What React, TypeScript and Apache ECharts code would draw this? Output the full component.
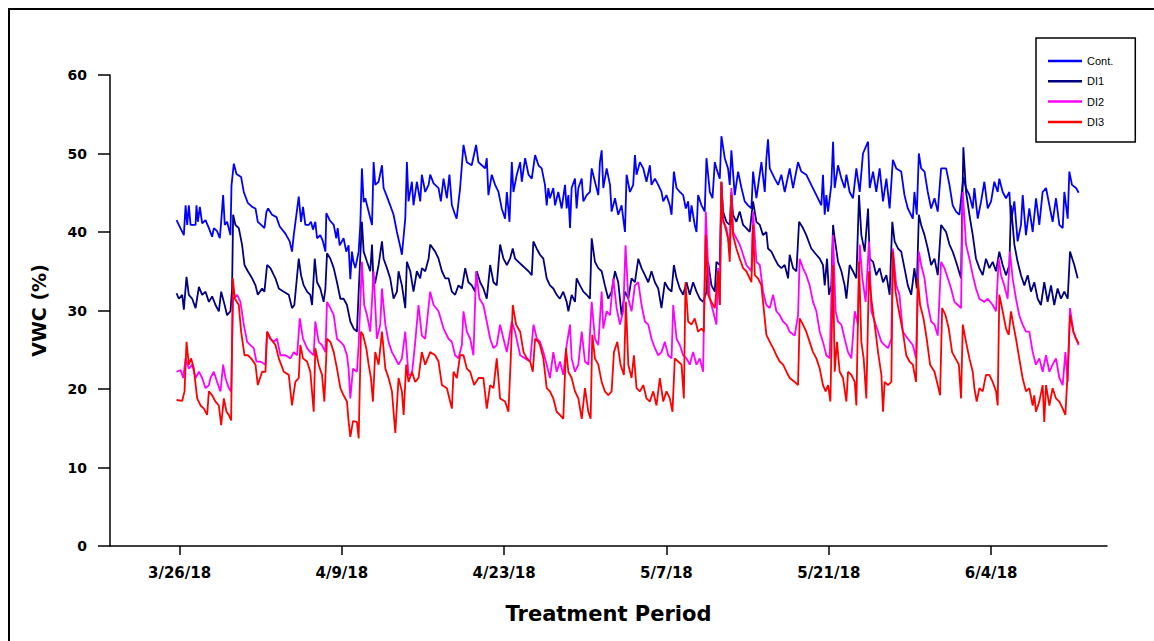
import React, { useEffect, useRef } from "react";
import * as echarts from "echarts";

const tickDays = [0, 14, 28, 42, 56, 70];
const tickLabels = ["3/26/18", "4/9/18", "4/23/18", "5/7/18", "5/21/18", "6/4/18"];
const yTicks = [0, 10, 20, 30, 40, 50, 60];
const seriesNames = ["Cont.", "DI1", "DI2", "DI3"];
const seriesColors = ["#0000FF", "#000080", "#FF00FF", "#FF0000"];

// [days since 3/26/18, VWC %]
const contData: [number, number][] = [
  [-0.26,41.5],[-0.06,40.9],[0.37,39.6],[0.52,43.4],[0.66,40.9],[0.8,43.4],[0.95,40.9],[1.38,40.9],[1.46,43.4],[1.58,41.3],[1.75,43.2],[1.95,41.1],[2.24,41.5],[2.53,40.5],[2.81,39.4],[2.96,40.5],[3.24,40.1],[3.47,39.2],[3.59,41.3],[3.76,44.7],[3.9,40.9],[4.1,41.3],[4.39,39.6],[4.48,45.9],[4.68,48.7],[4.91,47.4],[5.31,47.0],[5.54,45.1],[5.89,43.7],[6.26,43.2],[6.55,43.0],[6.75,41.3],[7.04,40.9],[7.32,40.5],[7.5,42.6],[7.64,43.0],[7.98,42.2],[8.36,41.9],[8.64,40.7],[9.13,39.8],[9.5,38.8],[9.7,37.5],[9.85,39.6],[10.28,44.5],[10.48,41.3],[10.65,43.2],[10.85,40.9],[11.14,40.9],[11.34,41.3],[11.51,40.3],[11.71,41.3],[11.86,39.2],[12.14,39.6],[12.37,38.8],[12.58,37.5],[12.66,42.4],[12.95,41.5],[13.3,40.9],[13.52,39.2],[13.64,40.5],[13.81,38.3],[14.15,39.2],[14.38,37.5],[14.58,38.3],[14.73,34.0],[14.87,37.5],[15.0,36.2],[15.16,35.4],[15.45,37.5],[15.59,40.9],[15.73,48.1],[15.88,43.8],[16.02,44.3],[16.31,42.6],[16.6,40.9],[16.74,48.9],[16.88,46.0],[17.17,46.4],[17.46,48.5],[17.6,45.6],[17.89,44.5],[18.17,43.4],[18.46,42.2],[18.75,40.0],[19.04,38.1],[19.18,37.1],[19.47,41.7],[19.61,48.9],[19.75,43.9],[20.04,46.4],[20.18,43.4],[20.47,46.4],[20.76,43.9],[20.9,47.3],[21.19,45.1],[21.48,46.0],[21.62,47.3],[21.91,46.2],[22.34,45.6],[22.54,43.9],[22.77,46.8],[23.06,44.3],[23.28,47.3],[23.49,43.4],[23.77,42.2],[23.9,41.7],[24.2,45.6],[24.49,51.1],[24.78,48.9],[25.2,48.5],[25.58,51.1],[25.78,48.9],[26.07,48.5],[26.36,48.1],[26.5,49.4],[26.64,44.7],[26.93,47.3],[27.22,46.0],[27.51,45.1],[27.79,43.0],[28.08,41.7],[28.23,45.1],[28.46,41.3],[28.66,48.9],[28.8,45.1],[29.09,47.3],[29.38,48.9],[29.52,46.4],[29.81,49.4],[30.1,47.3],[30.38,46.8],[30.67,49.8],[30.96,48.5],[31.24,48.1],[31.52,46.0],[31.67,43.4],[31.81,45.6],[31.95,44.3],[32.24,45.6],[32.39,43.4],[32.67,45.1],[32.96,43.0],[33.25,46.0],[33.39,43.0],[33.54,44.7],[33.68,40.5],[33.82,45.6],[34.11,46.8],[34.25,43.0],[34.4,45.6],[34.69,46.8],[34.83,43.9],[35.12,44.7],[35.4,45.1],[35.55,48.1],[35.83,46.4],[36.12,44.7],[36.26,48.9],[36.41,50.4],[36.55,45.6],[36.84,48.1],[37.13,46.0],[37.27,42.6],[37.56,44.3],[37.84,42.2],[38.13,43.4],[38.42,40.0],[38.56,47.3],[38.85,45.1],[39.13,46.0],[39.28,49.8],[39.42,47.3],[39.71,48.9],[40.0,48.1],[40.28,46.4],[40.57,48.5],[40.71,46.0],[41.0,46.8],[41.29,46.0],[41.57,45.1],[41.72,43.9],[42.0,44.7],[42.29,43.4],[42.44,42.2],[42.64,47.7],[42.87,45.6],[43.15,45.1],[43.44,44.7],[43.67,43.0],[43.87,43.9],[44.01,41.3],[44.16,43.4],[44.44,40.9],[44.59,40.0],[44.73,44.7],[45.02,43.4],[45.16,43.0],[45.3,42.6],[45.45,49.4],[45.74,45.1],[45.97,44.3],[46.17,48.9],[46.31,48.1],[46.6,46.8],[46.74,52.2],[47.03,49.4],[47.31,48.1],[47.46,46.0],[47.6,50.4],[47.89,44.7],[48.18,47.7],[48.47,45.6],[48.75,43.9],[49.04,43.4],[49.33,43.0],[49.47,47.7],[49.76,44.3],[50.19,48.9],[50.48,45.1],[50.62,49.4],[50.76,51.8],[50.91,48.1],[51.34,46.8],[51.63,46.0],[51.91,47.3],[52.2,45.1],[52.63,48.1],[52.92,45.6],[53.35,48.9],[53.63,47.7],[54.06,47.3],[54.49,46.0],[54.93,44.7],[55.36,43.4],[55.5,47.3],[55.65,42.2],[55.79,44.7],[55.94,42.6],[56.22,46.0],[56.37,51.5],[56.51,45.6],[56.8,48.5],[57.09,46.8],[57.37,45.6],[57.52,47.3],[57.8,45.1],[58.09,44.3],[58.38,48.1],[58.67,45.1],[58.95,50.0],[59.39,51.5],[59.53,45.6],[59.82,47.7],[60.1,45.1],[60.39,48.1],[60.68,43.9],[60.97,46.8],[61.25,43.0],[61.53,49.2],[61.82,48.1],[62.25,47.7],[62.53,44.7],[62.82,43.0],[63.25,41.7],[63.39,45.1],[63.59,42.2],[63.77,50.0],[63.97,48.1],[64.26,47.7],[64.54,45.1],[64.83,43.0],[65.12,44.3],[65.4,42.6],[65.69,48.1],[66.12,48.1],[66.41,46.0],[66.69,43.4],[66.98,42.6],[67.27,42.2],[67.61,47.0],[67.84,45.6],[68.13,44.7],[68.42,43.0],[68.56,45.6],[68.85,41.7],[69.14,43.9],[69.42,46.4],[69.71,43.0],[70.0,43.9],[70.28,46.4],[70.57,45.1],[70.71,46.8],[71.0,45.1],[71.29,44.3],[71.58,45.1],[71.72,41.3],[72.01,43.9],[72.29,38.8],[72.58,40.9],[72.73,44.7],[73.01,39.6],[73.3,43.0],[73.59,40.0],[73.88,44.3],[74.16,40.9],[74.45,45.1],[74.74,45.6],[75.03,43.4],[75.31,41.3],[75.6,44.3],[75.89,40.9],[76.18,40.5],[76.32,45.1],[76.61,41.7],[76.75,47.7],[76.98,46.0],[77.33,45.6],[77.56,45.0]
];

const di1Data: [number, number][] = [
  [-0.26,32.2],[-0.06,31.5],[0.23,32.0],[0.37,30.1],[0.6,34.3],[0.8,32.0],[1.09,31.5],[1.38,30.3],[1.67,33.0],[1.95,32.0],[2.24,32.4],[2.53,31.1],[2.81,31.8],[3.1,30.7],[3.39,29.9],[3.59,32.4],[3.82,31.1],[4.1,29.4],[4.39,29.9],[4.53,32.8],[4.62,42.2],[4.82,40.9],[5.11,40.5],[5.4,38.3],[5.6,35.8],[5.89,35.0],[6.26,34.1],[6.55,33.2],[6.75,32.0],[7.12,32.8],[7.32,32.4],[7.55,35.8],[7.84,35.4],[8.27,34.1],[8.56,32.8],[8.99,32.4],[9.42,32.0],[9.7,30.3],[9.9,30.7],[10.28,36.6],[10.48,34.5],[10.71,33.2],[11.0,32.4],[11.28,32.0],[11.43,30.7],[11.66,36.6],[11.86,33.6],[12.14,32.8],[12.43,31.1],[12.58,32.8],[12.72,37.3],[13.01,36.6],[13.3,35.4],[13.58,33.6],[13.87,31.5],[14.15,31.5],[14.44,30.7],[14.73,28.6],[15.02,27.7],[15.3,27.3],[15.45,32.4],[15.73,41.3],[15.88,37.5],[16.17,36.2],[16.45,35.0],[16.6,38.4],[16.74,33.2],[16.88,33.6],[17.17,35.8],[17.46,38.8],[17.6,36.6],[17.89,35.4],[18.17,34.1],[18.46,31.5],[18.75,32.4],[18.89,35.0],[19.18,33.2],[19.47,30.3],[19.61,36.2],[19.9,35.0],[20.18,32.4],[20.47,35.0],[20.76,34.1],[20.9,35.4],[21.19,35.0],[21.48,36.6],[21.62,38.4],[22.05,37.5],[22.34,36.6],[22.63,35.0],[22.92,34.1],[23.2,34.1],[23.49,32.4],[23.77,32.0],[24.06,33.2],[24.35,32.8],[24.64,35.4],[24.92,33.6],[25.21,33.2],[25.49,32.4],[25.64,35.0],[25.93,33.6],[26.21,32.8],[26.5,31.5],[26.79,35.8],[27.08,33.6],[27.36,33.2],[27.65,38.4],[27.94,36.6],[28.23,35.8],[28.51,36.6],[28.74,37.9],[28.94,36.6],[29.23,36.2],[29.52,35.8],[29.81,35.4],[30.1,35.0],[30.38,34.5],[30.52,38.8],[30.8,37.9],[31.09,37.1],[31.38,36.6],[31.67,34.1],[31.95,33.2],[32.24,32.8],[32.53,32.0],[32.81,31.5],[33.1,32.4],[33.39,31.1],[33.54,29.9],[33.82,32.0],[34.11,31.1],[34.25,34.1],[34.54,33.2],[34.83,32.4],[35.12,32.0],[35.4,31.5],[35.55,39.2],[35.83,36.2],[36.12,35.4],[36.41,35.0],[36.69,33.2],[36.98,31.5],[37.27,32.4],[37.56,35.0],[37.84,33.6],[38.13,29.4],[38.42,32.4],[38.71,31.5],[38.99,34.1],[39.28,33.6],[39.57,36.6],[39.85,35.4],[40.14,34.5],[40.43,33.6],[40.71,35.0],[41.0,33.6],[41.29,32.8],[41.57,30.3],[41.86,33.6],[42.15,32.8],[42.44,32.4],[42.64,35.8],[42.87,34.1],[43.15,32.8],[43.44,32.0],[43.73,33.6],[44.01,32.0],[44.3,33.6],[44.59,32.4],[44.87,31.5],[45.16,31.1],[45.45,32.4],[45.59,36.2],[45.88,33.2],[46.17,32.4],[46.31,36.2],[46.6,35.8],[46.74,46.4],[46.88,42.6],[47.17,41.3],[47.46,40.9],[47.6,45.1],[47.74,42.2],[48.03,41.3],[48.32,42.6],[48.61,40.9],[48.89,40.5],[49.18,40.0],[49.47,43.9],[49.76,41.3],[50.05,40.9],[50.33,39.6],[50.62,40.0],[50.76,37.9],[51.05,37.5],[51.34,36.6],[51.63,35.8],[51.91,35.4],[52.2,35.8],[52.49,34.1],[52.63,37.1],[52.92,35.4],[53.21,35.0],[53.44,41.3],[53.78,40.5],[54.06,39.6],[54.49,37.9],[54.93,37.1],[55.22,36.6],[55.5,35.8],[55.65,33.2],[55.85,36.6],[56.02,32.0],[56.22,33.2],[56.37,40.9],[56.51,39.2],[56.8,36.2],[57.09,35.0],[57.37,33.2],[57.52,31.5],[57.8,35.8],[58.09,35.0],[58.38,34.1],[58.61,44.7],[58.81,39.6],[59.1,37.5],[59.39,43.0],[59.53,36.6],[59.82,36.2],[60.1,34.5],[60.39,35.4],[60.68,33.6],[60.97,34.5],[61.25,32.0],[61.48,41.3],[61.68,38.8],[61.97,37.9],[62.25,37.5],[62.53,35.4],[62.82,33.2],[63.11,32.0],[63.39,35.4],[63.59,32.8],[63.77,42.2],[63.97,40.9],[64.26,39.6],[64.54,37.9],[64.83,35.8],[65.12,36.6],[65.4,34.5],[65.69,40.9],[66.12,40.0],[66.41,38.4],[66.69,37.5],[66.98,36.2],[67.41,34.1],[67.61,50.8],[67.84,45.1],[68.13,42.2],[68.42,39.6],[68.7,36.6],[68.99,35.4],[69.28,34.5],[69.56,36.6],[69.85,35.4],[70.14,36.2],[70.43,35.0],[70.71,37.5],[71.0,35.8],[71.29,34.5],[71.58,35.8],[71.72,43.4],[72.01,38.4],[72.29,36.2],[72.58,34.5],[72.87,33.2],[73.16,34.5],[73.44,32.4],[73.73,33.6],[74.02,31.5],[74.3,30.7],[74.59,33.6],[74.88,31.1],[75.17,33.2],[75.45,30.7],[75.74,32.8],[76.03,31.5],[76.32,32.4],[76.61,31.5],[76.81,37.5],[77.18,35.8],[77.47,34.1]
];

const di2Data: [number, number][] = [
  [-0.26,22.2],[0.09,22.4],[0.32,21.4],[0.52,23.9],[0.8,22.6],[1.09,23.1],[1.38,21.4],[1.67,22.2],[1.95,21.4],[2.24,20.1],[2.53,20.5],[2.67,21.4],[2.96,22.2],[3.24,20.9],[3.53,19.7],[3.76,23.1],[3.96,21.4],[4.25,20.1],[4.45,19.7],[4.62,31.5],[4.97,32.0],[5.25,31.1],[5.54,28.2],[5.83,26.0],[6.11,25.6],[6.4,25.2],[6.63,23.5],[6.98,23.5],[7.41,23.1],[7.55,27.3],[7.84,26.4],[8.13,26.0],[8.41,26.4],[8.7,24.3],[9.13,24.3],[9.56,23.9],[9.85,24.7],[10.14,24.3],[10.37,29.0],[10.65,26.4],[11.0,25.2],[11.28,24.7],[11.57,24.3],[11.71,28.6],[12.0,26.0],[12.29,25.6],[12.58,24.7],[12.72,31.1],[13.01,30.3],[13.3,29.4],[13.58,26.4],[13.87,26.0],[14.15,25.6],[14.44,24.3],[14.58,22.6],[14.73,18.8],[14.96,22.6],[15.3,22.2],[15.45,25.6],[15.73,36.2],[15.93,30.7],[16.17,29.4],[16.45,27.3],[16.74,35.0],[17.02,26.4],[17.31,28.2],[17.46,32.8],[17.75,28.2],[18.03,26.0],[18.32,24.7],[18.61,23.9],[18.89,23.1],[19.18,23.9],[19.47,27.3],[19.75,21.8],[20.04,21.8],[20.33,26.0],[20.61,30.7],[20.9,26.8],[21.19,26.4],[21.62,32.4],[21.91,30.7],[22.34,29.9],[22.77,27.7],[23.2,26.4],[23.49,26.0],[23.77,24.3],[24.06,23.9],[24.35,25.6],[24.49,29.9],[24.78,27.3],[25.07,26.4],[25.35,24.3],[25.58,35.0],[25.87,31.5],[26.21,30.7],[26.5,28.6],[26.79,26.4],[27.08,25.2],[27.36,25.6],[27.65,28.2],[27.94,26.4],[28.23,24.7],[28.66,28.6],[28.94,27.3],[29.38,24.3],[29.81,23.9],[30.24,23.5],[30.53,28.2],[30.82,26.4],[31.09,26.0],[31.38,24.7],[31.67,23.1],[31.95,21.4],[32.24,24.7],[32.53,22.2],[32.81,23.5],[33.1,21.8],[33.39,25.6],[33.68,28.2],[33.82,23.9],[34.11,22.2],[34.4,23.1],[34.69,27.3],[34.97,23.5],[35.26,23.1],[35.55,31.1],[35.83,26.4],[36.12,25.6],[36.41,32.4],[36.55,27.7],[36.84,29.9],[37.13,29.4],[37.41,34.1],[37.7,30.3],[37.99,28.2],[38.27,29.9],[38.47,38.3],[38.71,31.5],[38.99,29.9],[39.28,33.2],[39.57,33.6],[39.85,30.7],[40.14,28.6],[40.43,28.2],[40.71,26.4],[41.0,25.2],[41.29,24.3],[41.57,24.7],[41.86,26.0],[42.15,24.3],[42.44,23.9],[42.58,30.7],[42.87,26.4],[43.15,25.6],[43.44,24.3],[43.73,23.9],[44.01,23.1],[44.3,24.7],[44.59,23.1],[44.87,23.9],[45.16,22.2],[45.39,42.6],[45.59,35.8],[45.74,31.5],[46.02,29.9],[46.31,28.2],[46.45,35.4],[46.6,30.7],[46.74,46.0],[46.88,41.3],[47.17,40.5],[47.46,37.9],[47.6,45.6],[47.74,40.0],[48.03,39.2],[48.32,38.4],[48.61,37.1],[48.89,35.8],[49.33,35.0],[49.47,42.6],[49.76,36.2],[50.05,35.8],[50.33,32.4],[50.62,30.7],[50.91,30.3],[51.2,32.0],[51.48,29.9],[51.77,29.4],[52.06,28.6],[52.35,28.2],[52.63,27.3],[53.06,26.8],[53.35,29.4],[53.49,36.6],[53.78,35.4],[54.06,34.5],[54.35,33.2],[54.64,31.1],[54.93,29.9],[55.22,27.3],[55.5,26.0],[55.79,24.3],[56.08,23.9],[56.37,39.6],[56.59,29.9],[56.8,28.6],[57.09,28.2],[57.37,26.4],[57.66,24.7],[57.95,23.9],[58.24,29.9],[58.52,28.2],[58.67,38.4],[58.9,34.1],[59.18,31.1],[59.47,38.8],[59.67,29.9],[59.96,28.6],[60.25,27.3],[60.54,26.0],[60.82,25.6],[61.11,25.2],[61.4,26.4],[61.53,37.9],[61.82,33.2],[62.1,32.0],[62.39,27.3],[62.82,26.4],[63.25,25.6],[63.53,23.9],[63.77,37.5],[63.97,35.8],[64.26,34.1],[64.54,30.7],[64.83,28.6],[65.12,28.2],[65.4,26.8],[65.69,36.2],[65.98,35.4],[66.27,34.1],[66.55,32.8],[66.84,31.1],[67.13,30.7],[67.41,30.3],[67.56,45.1],[67.84,38.4],[68.13,36.6],[68.42,34.5],[68.7,32.8],[68.99,31.5],[69.42,31.1],[69.71,31.5],[70.14,30.7],[70.43,29.9],[70.66,36.6],[70.86,34.5],[71.14,33.2],[71.43,31.5],[71.63,37.5],[71.86,34.1],[72.15,31.5],[72.43,29.4],[72.72,28.2],[73.01,27.3],[73.3,27.3],[73.59,24.7],[73.87,23.1],[74.16,23.9],[74.45,22.2],[74.74,24.3],[75.03,22.2],[75.31,23.1],[75.6,23.9],[75.89,21.4],[76.18,20.5],[76.41,24.7],[76.61,20.9],[76.81,30.3],[77.1,27.3],[77.33,26.4],[77.56,25.6]
];

const di3Data: [number, number][] = [
  [-0.26,18.6],[0.23,18.5],[0.43,19.7],[0.6,26.0],[0.8,23.1],[1.0,23.9],[1.23,22.6],[1.52,18.8],[1.81,17.9],[2.1,17.5],[2.38,16.7],[2.53,19.7],[2.81,19.2],[3.1,18.4],[3.39,17.9],[3.59,15.4],[3.82,18.8],[4.05,17.1],[4.25,16.7],[4.45,16.0],[4.59,34.1],[4.77,31.5],[5.11,30.7],[5.31,27.3],[5.6,24.3],[5.89,24.3],[6.17,23.9],[6.55,23.1],[6.75,20.5],[7.12,22.2],[7.41,22.2],[7.55,27.3],[7.84,26.4],[8.27,25.6],[8.56,23.9],[8.99,22.2],[9.42,21.8],[9.7,17.9],[9.99,20.9],[10.28,21.4],[10.42,25.6],[10.65,23.9],[11.0,23.5],[11.28,22.2],[11.57,17.1],[11.71,25.2],[12.0,23.1],[12.29,21.8],[12.49,18.4],[12.72,26.4],[13.01,26.0],[13.3,24.7],[13.58,22.6],[13.87,20.1],[14.15,19.2],[14.44,18.4],[14.58,15.9],[14.73,13.9],[14.96,15.9],[15.3,15.8],[15.45,13.7],[15.65,27.3],[15.82,26.9],[16.11,25.2],[16.31,23.1],[16.51,21.4],[16.68,18.4],[16.88,24.7],[17.17,23.1],[17.46,27.3],[17.75,22.6],[18.03,21.4],[18.32,19.7],[18.61,14.4],[18.89,21.4],[19.18,19.7],[19.33,16.7],[19.55,23.1],[19.75,20.9],[20.04,22.2],[20.33,20.9],[20.61,21.4],[20.9,24.7],[21.19,23.1],[21.62,24.7],[22.05,24.3],[22.34,23.5],[22.63,20.5],[23.06,20.1],[23.49,17.5],[23.63,22.2],[23.92,21.4],[24.2,24.3],[24.49,24.3],[24.78,22.6],[25.07,22.2],[25.41,20.5],[25.79,21.4],[26.21,21.4],[26.5,17.5],[26.79,20.5],[27.08,20.1],[27.36,23.9],[27.65,18.8],[28.08,18.4],[28.37,17.1],[28.57,23.9],[28.74,30.7],[29.03,28.2],[29.38,27.3],[29.67,24.7],[29.96,23.9],[30.24,23.5],[30.47,22.2],[30.67,26.4],[30.96,26.0],[31.09,25.6],[31.38,23.9],[31.67,20.1],[31.95,19.7],[32.24,18.8],[32.53,17.1],[32.81,16.7],[33.1,16.2],[33.33,25.2],[33.54,22.2],[33.82,21.4],[34.11,19.7],[34.4,18.8],[34.69,16.2],[34.97,20.1],[35.26,17.1],[35.46,16.2],[35.6,26.9],[35.83,23.9],[36.12,23.1],[36.41,20.9],[36.69,19.7],[36.98,19.2],[37.27,19.7],[37.47,24.7],[37.76,26.0],[38.04,23.1],[38.33,21.8],[38.5,31.1],[38.71,23.1],[38.99,21.4],[39.19,24.3],[39.42,20.1],[39.71,19.7],[40.0,20.5],[40.28,18.8],[40.57,18.4],[40.86,19.7],[41.14,17.9],[41.43,21.4],[41.72,18.4],[42.0,19.7],[42.29,18.8],[42.52,17.1],[42.72,23.9],[43.01,23.5],[43.3,23.1],[43.5,18.8],[43.64,33.6],[43.87,28.6],[44.16,28.2],[44.44,29.0],[44.73,27.3],[45.02,27.7],[45.22,27.3],[45.39,39.6],[45.59,32.0],[45.88,31.1],[46.17,30.3],[46.45,35.0],[46.6,30.7],[46.74,46.4],[46.88,41.7],[47.03,40.9],[47.31,39.2],[47.46,36.2],[47.6,44.7],[47.74,39.6],[48.03,37.9],[48.32,36.6],[48.61,35.4],[48.89,35.0],[49.18,34.1],[49.33,33.6],[49.47,40.9],[49.62,34.5],[49.9,34.1],[50.19,33.2],[50.33,31.1],[50.62,26.9],[50.91,26.0],[51.2,25.2],[51.48,24.3],[51.77,23.5],[52.06,23.1],[52.35,22.2],[52.63,21.4],[53.06,20.9],[53.35,20.5],[53.49,29.0],[53.78,28.2],[54.06,27.3],[54.35,26.0],[54.64,24.7],[54.93,23.9],[55.22,22.6],[55.5,20.5],[55.73,19.7],[55.94,20.5],[56.14,18.4],[56.37,35.8],[56.51,22.2],[56.71,26.0],[56.94,22.2],[57.23,21.4],[57.52,18.4],[57.66,22.2],[57.95,21.8],[58.24,20.9],[58.38,17.9],[58.61,36.2],[58.81,26.0],[59.01,23.9],[59.24,18.8],[59.47,35.0],[59.67,31.5],[59.96,28.2],[60.25,24.7],[60.54,21.8],[60.68,17.1],[60.82,20.9],[61.11,20.5],[61.4,20.9],[61.53,37.5],[61.76,32.4],[62.05,29.9],[62.39,27.3],[62.68,24.3],[62.97,23.5],[63.25,23.1],[63.53,20.9],[63.68,34.1],[63.88,30.7],[64.17,29.0],[64.45,26.4],[64.74,23.1],[65.12,22.2],[65.4,20.5],[65.6,19.2],[65.78,30.3],[66.07,29.4],[66.35,27.7],[66.64,24.7],[66.93,23.9],[67.22,23.1],[67.41,18.8],[67.56,28.2],[67.84,26.0],[68.13,23.9],[68.42,22.2],[68.56,20.1],[68.76,18.4],[68.99,20.1],[69.28,19.7],[69.56,21.8],[69.85,21.8],[70.14,20.9],[70.43,19.7],[70.57,17.9],[70.71,32.0],[71.0,29.9],[71.29,27.7],[71.52,26.9],[71.72,29.9],[71.92,28.2],[72.15,26.4],[72.43,23.9],[72.72,21.4],[73.01,19.7],[73.3,20.1],[73.59,17.9],[73.73,19.2],[73.87,17.1],[74.16,18.4],[74.45,20.5],[74.59,15.8],[74.74,20.5],[75.03,17.9],[75.31,20.1],[75.6,18.8],[75.89,18.4],[76.18,17.5],[76.41,16.7],[76.61,22.2],[76.81,29.4],[77.1,27.3],[77.33,26.4],[77.56,25.8]
];

const allData = [contData, di1Data, di2Data, di3Data];

const boldFont = "'DejaVu Sans', 'Liberation Sans', sans-serif";

export default function App() {
  const ref = useRef<HTMLDivElement>(null);
  useEffect(() => {
    if (!ref.current) return;
    const chart = echarts.init(ref.current, null, { renderer: "svg" });
    chart.setOption({
      animation: false,
      backgroundColor: "#ffffff",
      graphic: [
        {
          type: "rect",
          silent: true,
          shape: { x: 9, y: 9, width: 1200, height: 700 },
          style: { fill: "none", stroke: "#000", lineWidth: 2 },
        },
      ],
      legend: {
        orient: "vertical",
        left: 1036,
        top: 38,
        data: seriesNames,
        icon: "rect",
        itemWidth: 34,
        itemHeight: 2.5,
        itemGap: 6.3,
        padding: [16, 22, 13, 12],
        borderColor: "#000",
        borderWidth: 1.5,
        backgroundColor: "#fff",
        textStyle: { fontFamily: "'Liberation Sans', Arial, sans-serif", fontSize: 11, color: "#000", lineHeight: 14 },
      },
      grid: { left: 110, right: 47, top: 75, bottom: 95 },
      xAxis: {
        type: "value",
        min: -6,
        max: 80,
        axisLine: { onZero: false, lineStyle: { color: "#000", width: 1.5 } },
        axisTick: { show: true, length: 9, customValues: tickDays, lineStyle: { color: "#000", width: 1.5 } },
        axisLabel: {
          customValues: tickDays,
          formatter: (v: number) => {
            const i = tickDays.indexOf(v);
            return i >= 0 ? tickLabels[i] : "";
          },
          margin: 19,
          fontFamily: boldFont,
          fontWeight: "bold",
          fontSize: 15,
          color: "#000",
        },
        splitLine: { show: false },
        name: "Treatment Period",
        nameLocation: "middle",
        nameGap: 57,
        nameTextStyle: { fontFamily: boldFont, fontWeight: "bold", fontSize: 21, color: "#000" },
      },
      yAxis: {
        type: "value",
        min: 0,
        max: 60,
        interval: 10,
        axisLine: { show: true, onZero: false, lineStyle: { color: "#000", width: 1.5 } },
        axisTick: { show: true, length: 12, lineStyle: { color: "#000", width: 1.5 } },
        axisLabel: {
          margin: 23,
          fontFamily: boldFont,
          fontWeight: "bold",
          fontSize: 14,
          color: "#000",
          formatter: (v: number) => (yTicks.includes(v) ? String(v) : ""),
        },
        splitLine: { show: false },
        name: "VWC (%)",
        nameLocation: "middle",
        nameGap: 62,
        nameRotate: 90,
        nameTextStyle: { fontFamily: boldFont, fontWeight: "bold", fontSize: 19, color: "#000" },
      },
      series: seriesNames.map((name, i) => ({
        name,
        type: "line",
        data: allData[i],
        showSymbol: false,
        symbol: "none",
        color: seriesColors[i],
        lineStyle: { color: seriesColors[i], width: 1.8 },
        z: 2 + i,
      })),
    });
    return () => chart.dispose();
  }, []);
  return (
    <div
      ref={ref}
      style={{ position: "fixed", left: 0, top: 0, width: 1154, height: 641, background: "#fff" }}
    />
  );
}
